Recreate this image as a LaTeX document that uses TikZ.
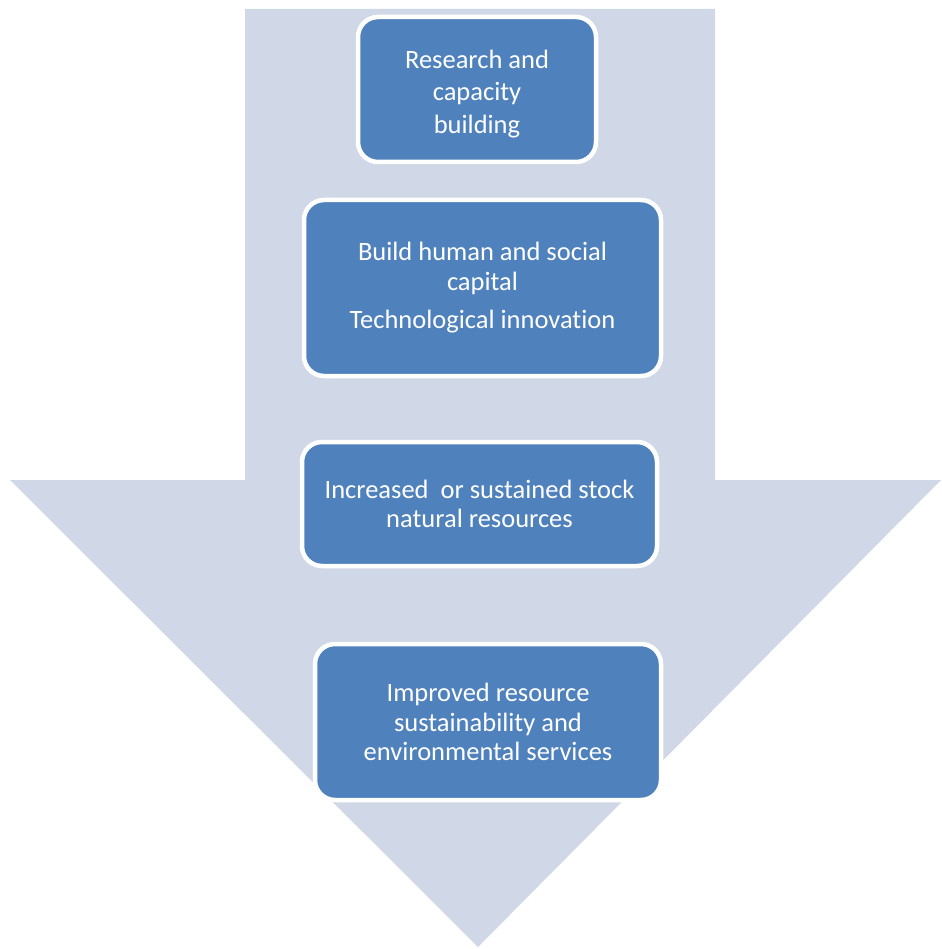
\documentclass[tikz,border=0pt]{standalone}
\usepackage{fontspec}
\setmainfont{Carlito}[Ligatures={NoCommon}]
\definecolor{arrowfill}{HTML}{D0D8E8}
\definecolor{boxfill}{HTML}{4F81BD}
\begin{document}
\begin{tikzpicture}[x=1pt,y=-1pt,
  stepbox/.style={draw=white, line width=4.5pt, fill=boxfill, rounded corners=20pt, text=white, font=\fontsize{26.5}{29.5}\selectfont, align=center}]
\useasboundingbox (0,0) rectangle (941,949);
\fill[arrowfill] (245,9) -- (715,9) -- (715,480) -- (941,480) -- (478,947) -- (10,480) -- (245,480) -- cycle;
\node[stepbox, minimum width=238pt, minimum height=145pt] (b1) at (477,89.5) {\rule{0pt}{27pt}Research and\\[3pt]capacity\\[3pt]building};
\node[stepbox, minimum width=357pt, minimum height=176pt] (b2) at (482.5,288) {Build human and social\\capital\\[9pt]Technological innovation};
\node[stepbox, minimum width=355pt, minimum height=124pt] (b3) at (479.5,504) {Increased\ \ or sustained stock\\natural resources};
\node[stepbox, minimum width=346pt, minimum height=156pt] (b4) at (488,722) {Improved resource\\sustainability and\\environmental services};
\end{tikzpicture}
\end{document}
